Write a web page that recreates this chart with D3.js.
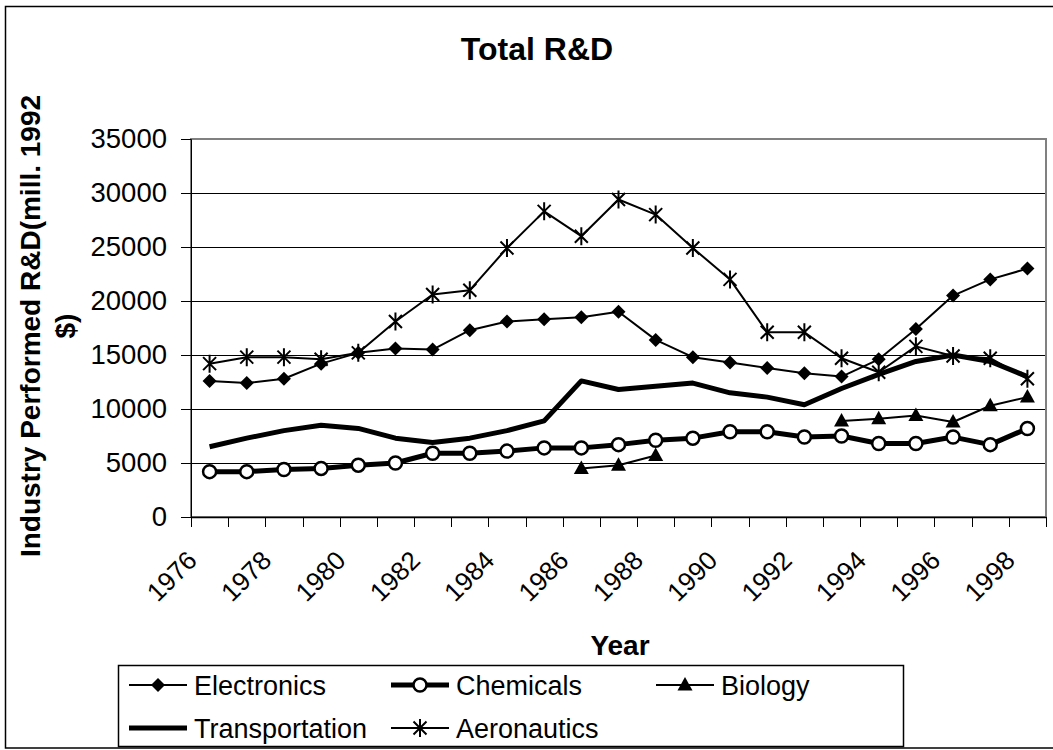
<!DOCTYPE html>
<html>
<head>
<meta charset="utf-8">
<script src="https://cdn.jsdelivr.net/npm/d3@7"></script>
<style>
  html, body { margin: 0; padding: 0; background: #fff; }
  svg { display: block; }
  text { font-family: "Liberation Sans", Arial, Helvetica, sans-serif; fill: #000; }
</style>
</head>
<body>
<svg id="chart" width="1053" height="750"></svg>
<script>
// Industry-performed R&D by sector, millions of 1992 dollars
const years = ["1976","1977","1978","1979","1980","1981","1982","1983","1984","1985","1986",
               "1987","1988","1989","1990","1991","1992","1993","1994","1995","1996","1997","1998"];
const xTickLabels = ["1976","1978","1980","1982","1984","1986","1988","1990","1992","1994","1996","1998"];
const yTicks = [0, 5000, 10000, 15000, 20000, 25000, 30000, 35000];

const electronics    = [12600,12400,12800,14200,15200,15600,15500,17300,18100,18300,18500,
                        19000,16400,14800,14300,13800,13300,13000,14600,17400,20500,22000,23000];
const chemicals      = [4200,4200,4400,4500,4800,5000,5900,5900,6100,6400,6400,
                        6700,7100,7300,7900,7900,7400,7500,6800,6800,7400,6700,8200];
const biology        = [null,null,null,null,null,null,null,null,null,null,4500,
                        4800,5700,null,null,null,null,8900,9100,9400,8800,10300,11100];
const transportation = [6500,7300,8000,8500,8200,7300,6900,7300,8000,8900,12600,
                        11800,12100,12400,11500,11100,10400,11900,13200,14400,15000,14400,13000];
const aeronautics    = [14200,14800,14800,14600,15200,18100,20600,21000,24900,28300,26000,
                        29400,28000,24900,22000,17100,17100,14700,13400,15800,14900,14700,12800];

const seriesNames = ["Electronics","Chemicals","Biology","Transportation","Aeronautics"];

const svg = d3.select("#chart");

// chart frame (right side runs past the canvas edge)
svg.append("rect")
  .attr("x", 5.5).attr("y", 6.5).attr("width", 1060).attr("height", 741.5)
  .attr("fill", "#fff").attr("stroke", "#000").attr("stroke-width", 1.5);

const plot = { left: 191, right: 1046, top: 139, bottom: 517 };

const x = d3.scaleBand().domain(years).range([plot.left, plot.right]);
const cx = d => x(d) + x.bandwidth() / 2;
const y = d3.scaleLinear().domain([0, 35000]).range([plot.bottom, plot.top]);

// title
svg.append("text")
  .attr("x", 537).attr("y", 60)
  .attr("text-anchor", "middle")
  .style("font-size", "32px").style("font-weight", "bold")
  .text("Total R&D");

// horizontal gridlines
svg.append("g")
  .selectAll("line")
  .data(yTicks.filter(v => v > 0 && v < 35000))
  .join("line")
  .attr("x1", plot.left).attr("x2", plot.right)
  .attr("y1", d => Math.round(y(d)) + 0.5).attr("y2", d => Math.round(y(d)) + 0.5)
  .attr("stroke", "#000").attr("stroke-width", 1);

// plot area border
svg.append("rect")
  .attr("x", plot.left).attr("y", plot.top)
  .attr("width", plot.right - plot.left).attr("height", plot.bottom - plot.top)
  .attr("fill", "none").attr("stroke", "#808080").attr("stroke-width", 2);

// y axis
const yAxis = svg.append("g")
  .attr("transform", `translate(${plot.left},0)`)
  .call(d3.axisLeft(y).tickValues(yTicks).tickSize(10).tickPadding(14).tickFormat(d3.format("d")));
yAxis.select(".domain").attr("stroke", "#000").attr("stroke-width", 1);
yAxis.selectAll(".tick line").attr("stroke", "#000");
yAxis.selectAll("text").style("font-size", "27.5px").attr("fill", "#000");

// x axis: ticks on category boundaries, labels every second year
const xAxis = svg.append("g")
  .attr("transform", `translate(0,${plot.bottom})`)
  .call(d3.axisBottom(x).tickValues(xTickLabels).tickSize(0).tickPadding(0));
xAxis.select(".domain").attr("stroke", "#000").attr("stroke-width", 1.5);
xAxis.selectAll("text")
  .attr("x", null).attr("y", null).attr("dy", null)
  .attr("text-anchor", "end")
  .attr("transform", "translate(-11,45) rotate(-45)")
  .style("font-size", "26px").attr("fill", "#000");

const boundaries = years.map(d => x(d)).concat([plot.right]);
svg.append("g")
  .selectAll("line")
  .data(boundaries)
  .join("line")
  .attr("x1", d => Math.round(d) + 0.5).attr("x2", d => Math.round(d) + 0.5)
  .attr("y1", plot.bottom).attr("y2", plot.bottom + 10)
  .attr("stroke", "#000").attr("stroke-width", 1);

// axis titles
svg.append("text")
  .attr("x", 620).attr("y", 655)
  .attr("text-anchor", "middle")
  .style("font-size", "28px").style("font-weight", "bold")
  .text("Year");

const yTitle = ["Industry Performed R&D(mill. 1992", "$)"];
svg.append("g")
  .selectAll("text")
  .data(yTitle)
  .join("text")
  .attr("transform", (d, i) => `translate(${40 + i * 35},326) rotate(-90)`)
  .attr("text-anchor", "middle")
  .style("font-size", "28px").style("font-weight", "bold")
  .text(d => d);

// marker shapes
const markerPaths = {
  diamond: "M0,-7L7,0L0,7L-7,0Z",
  triangle: "M0,-8L7.5,5.5L-7.5,5.5Z",
  star: "M-6.5,-6.5L6.5,6.5M-6.5,6.5L6.5,-6.5M0,-9L0,9"
};

const series = [
  { name: seriesNames[0], values: electronics,    width: 2, marker: "diamond" },
  { name: seriesNames[1], values: chemicals,      width: 5, marker: "circle" },
  { name: seriesNames[2], values: biology,        width: 2, marker: "triangle" },
  { name: seriesNames[3], values: transportation, width: 5, marker: null },
  { name: seriesNames[4], values: aeronautics,    width: 2, marker: "star" }
];

function drawMarker(g, type) {
  if (type === "circle") {
    g.append("circle").attr("r", 6.5).attr("fill", "#fff").attr("stroke", "#000").attr("stroke-width", 2.5);
  } else if (type === "star") {
    g.append("path").attr("d", markerPaths.star).attr("fill", "none").attr("stroke", "#000").attr("stroke-width", 2);
  } else if (type) {
    g.append("path").attr("d", markerPaths[type]).attr("fill", "#000");
  }
}

const lineGen = d3.line()
  .defined(d => d.v != null)
  .x(d => cx(d.year))
  .y(d => y(d.v));

series.forEach(s => {
  const pts = years.map((yr, i) => ({ year: yr, v: s.values[i] }));
  const g = svg.append("g").attr("class", "series");
  g.append("path")
    .attr("d", lineGen(pts))
    .attr("fill", "none").attr("stroke", "#000")
    .attr("stroke-width", s.width).attr("stroke-linejoin", "round");
  if (s.marker) {
    pts.filter(p => p.v != null).forEach(p => {
      const m = g.append("g").attr("transform", `translate(${cx(p.year)},${y(p.v)})`);
      drawMarker(m, s.marker);
    });
  }
});

// legend
svg.append("rect")
  .attr("x", 118.5).attr("y", 665.5).attr("width", 785).attr("height", 81)
  .attr("fill", "#fff").attr("stroke", "#000").attr("stroke-width", 1.5);

const legendCols = [129, 391, 656];
const legendRows = [685, 728];
series.forEach((s, i) => {
  const lx = legendCols[i % 3], ly = legendRows[Math.floor(i / 3)];
  const g = svg.append("g").attr("transform", `translate(${lx},${ly})`);
  g.append("line").attr("x1", 0).attr("x2", 58).attr("y1", 0).attr("y2", 0)
    .attr("stroke", "#000").attr("stroke-width", s.width);
  if (s.marker) {
    const m = g.append("g").attr("transform", "translate(29,0)");
    drawMarker(m, s.marker);
  }
  g.append("text").attr("x", 65).attr("y", 10)
    .style("font-size", "27px").text(s.name);
});
</script>
</body>
</html>
